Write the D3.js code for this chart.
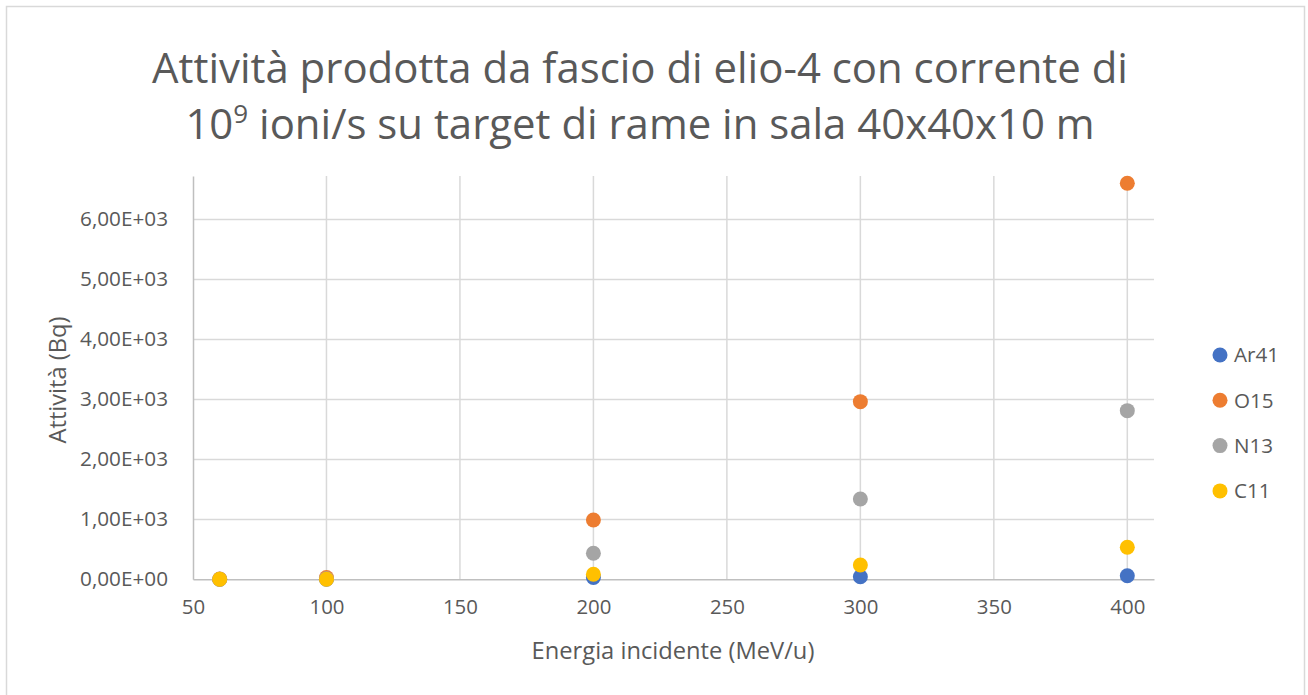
<!DOCTYPE html>
<html>
<head>
<meta charset="utf-8">
<script src="https://cdn.jsdelivr.net/npm/d3@7"></script>
<style>
  html, body { margin: 0; padding: 0; background: #fff; }
  svg { display: block; }
  text { font-family: "Open Sans", "Noto Sans", sans-serif; fill: #595959; }
</style>
</head>
<body>
<svg id="chart" width="1308" height="695"></svg>
<script>
// Incident beam energy (MeV/u)
const energies = [60, 100, 200, 300, 400];

// Activity (Bq) per nuclide
const seriesNames = ["Ar41", "O15", "N13", "C11"];
const ar41 = [0, 0, 30, 43, 60];
const o15  = [5, 30, 988, 2960, 6600];
const n13  = [2, 10, 433, 1338, 2810];
const c11  = [0, 0, 83, 238, 533];
const seriesColors = ["#4472C4", "#ED7D31", "#A5A5A5", "#FFC000"];

const xTicks = [50, 100, 150, 200, 250, 300, 350, 400];
const yTicks = [0, 1000, 2000, 3000, 4000, 5000, 6000];
const yTickLabels = ["0,00E+00", "1,00E+03", "2,00E+03", "3,00E+03", "4,00E+03", "5,00E+03", "6,00E+03"];

const titleLine1 = "Attività prodotta da fascio di elio-4 con corrente di";
const titleLine2a = "10";
const titleLine2sup = "9";
const titleLine2b = " ioni/s su target di rame in sala 40x40x10 m";
const xTitle = "Energia incidente (MeV/u)";
const yTitle = "Attività (Bq)";

const seriesValues = [ar41, o15, n13, c11];

const svg = d3.select("#chart");

// outer chart frame
svg.append("rect")
  .attr("x", 6.5).attr("y", 6.5)
  .attr("width", 1298).attr("height", 700)
  .attr("fill", "#fff").attr("stroke", "#d9d9d9").attr("stroke-width", 1.5);

const plot = { left: 193, right: 1154, top: 176, bottom: 579.3 };

const x = d3.scaleLinear().domain([50, 410]).range([plot.left, plot.right]);
const y = d3.scaleLinear().domain([0, 6720]).range([plot.bottom, plot.top]);

// Font size that makes a text node span the wanted width
function fittedSize(sel, target) {
  const size = parseFloat(sel.attr("font-size"));
  const w = sel.node().getComputedTextLength();
  return +(size * target / w).toFixed(2);
}
function fitWidth(sel, target) {
  sel.attr("font-size", fittedSize(sel, target));
}

// gridlines
const grid = svg.append("g");
grid.selectAll("line.h").data(yTicks.filter(d => d > 0)).enter().append("line")
  .attr("x1", plot.left).attr("x2", plot.right)
  .attr("y1", d => Math.round(y(d)) + 0.5).attr("y2", d => Math.round(y(d)) + 0.5)
  .attr("stroke", "#d9d9d9").attr("stroke-width", 1.5);
grid.selectAll("line.v").data(xTicks.filter(d => d > 50)).enter().append("line")
  .attr("x1", d => x(d)).attr("x2", d => x(d))
  .attr("y1", plot.top).attr("y2", plot.bottom)
  .attr("stroke", "#d9d9d9").attr("stroke-width", 1.5);

// axes
const xAxis = d3.axisBottom(x).tickValues(xTicks).tickSize(0).tickPadding(20);
const gx = svg.append("g").attr("transform", `translate(0,${plot.bottom})`).call(xAxis);
gx.select(".domain").attr("stroke", "#bfbfbf").attr("stroke-width", 1.5);
gx.selectAll(".tick text").attr("font-size", 16.5).attr("fill", "#595959")
  .attr("font-family", "'Open Sans', sans-serif");
const xLabelSize = fittedSize(gx.selectAll(".tick text").filter(d => d === 200), 35);
gx.selectAll(".tick text").attr("font-size", xLabelSize);

const yAxis = d3.axisLeft(y).tickValues(yTicks).tickSize(0).tickPadding(25)
  .tickFormat((d, i) => yTickLabels[i]);
const gy = svg.append("g").attr("transform", `translate(${plot.left},0)`).call(yAxis);
gy.select(".domain").attr("stroke", "#bfbfbf").attr("stroke-width", 1.5);
gy.selectAll(".tick text").attr("font-size", 16.5).attr("fill", "#595959")
  .attr("font-family", "'Open Sans', sans-serif");
gy.selectAll(".tick text").each(function () { fitWidth(d3.select(this), 88); });

// scatter points
seriesValues.forEach((vals, si) => {
  svg.append("g").selectAll("circle").data(vals).enter().append("circle")
    .attr("cx", (d, i) => x(energies[i]))
    .attr("cy", d => y(d))
    .attr("r", 7.5)
    .attr("fill", seriesColors[si]);
});

// title
const t1 = svg.append("text").attr("x", 640).attr("y", 83)
  .attr("text-anchor", "middle").attr("font-size", 40).text(titleLine1);
fitWidth(t1, 976);
const t2 = svg.append("text").attr("x", 640).attr("y", 139)
  .attr("text-anchor", "middle").attr("font-size", t1.attr("font-size"));
t2.append("tspan").text(titleLine2a);
t2.append("tspan").attr("dy", -16).attr("font-size", (parseFloat(t1.attr("font-size")) * 0.62).toFixed(1)).text(titleLine2sup);
t2.append("tspan").attr("dy", 16).text(titleLine2b);

// axis titles
const xt = svg.append("text").attr("x", 673).attr("y", 659)
  .attr("text-anchor", "middle").attr("font-size", 18).text(xTitle);
fitWidth(xt, 283);
const yt = svg.append("text").attr("transform", "translate(66,380) rotate(-90)")
  .attr("text-anchor", "middle").attr("font-size", 18).text(yTitle);
fitWidth(yt, 127);

// legend
const legend = svg.append("g");
const rows = legend.selectAll("g").data(seriesNames).enter().append("g")
  .attr("transform", (d, i) => `translate(1220,${355 + i * 45.3})`);
rows.append("circle").attr("r", 7.5).attr("fill", (d, i) => seriesColors[i]);
const legendText = rows.append("text").attr("x", 14).attr("dy", "0.35em").attr("font-size", 16.5).text(d => d);
const legendSize = fittedSize(legendText.filter(d => d === "Ar41"), 45);
legendText.attr("font-size", legendSize);
</script>
</body>
</html>
